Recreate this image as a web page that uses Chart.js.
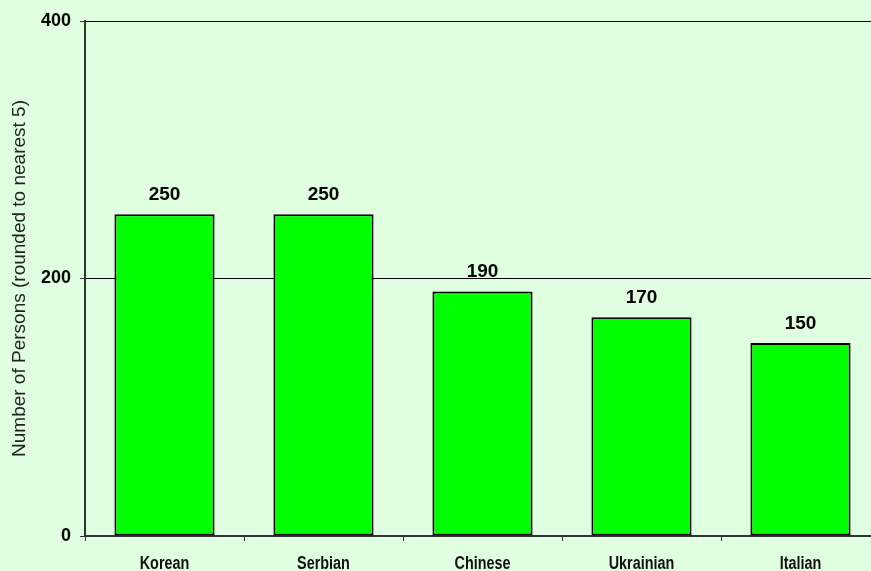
<!DOCTYPE html>
<html>
<head>
<meta charset="utf-8">
<script src="https://cdn.jsdelivr.net/npm/chart.js@4/dist/chart.umd.min.js"></script>
<style>
  html, body { margin: 0; padding: 0; overflow: hidden; background: #E0FFE0; }
  canvas { display: block; }
</style>
</head>
<body>
<canvas id="bar-chart" width="880" height="571"></canvas>
<script>
// data
const categories = ["Korean", "Serbian", "Chinese", "Ukrainian", "Italian"];
const persons = [250, 250, 190, 170, 150];
const yTicks = [0, 200, 400];

// value above each bar + narrow bold category names (like Arial Narrow)
const valueLabels = {
    id: 'valueLabels',
    afterDatasetsDraw(chart) {
        const ctx = chart.ctx;
        const meta = chart.getDatasetMeta(0);
        ctx.save();
        ctx.font = "bold 19px 'Liberation Sans', Arial, sans-serif";
        ctx.fillStyle = "#000";
        ctx.textAlign = "center";
        ctx.textBaseline = "alphabetic";
        meta.data.forEach((bar, i) => {
            ctx.fillText(persons[i], bar.x, bar.y - 14);
        });
        ctx.restore();
    },
    afterDraw(chart) {
        const ctx = chart.ctx;
        const xs = chart.scales.x;
        ctx.save();
        ctx.font = "bold 18px 'Liberation Sans', Arial, sans-serif";
        ctx.fillStyle = "#111";
        ctx.textAlign = "center";
        ctx.textBaseline = "alphabetic";
        categories.forEach((c, i) => {
            const x = xs.getPixelForValue(i);
            ctx.save();
            ctx.translate(x, 569);
            ctx.scale(0.8, 1);
            ctx.fillText(c, 0, 0);
            ctx.restore();
        });
        ctx.restore();
    }
};

const chart = new Chart(document.getElementById("bar-chart"), {
    type: 'bar',
    data: {
        labels: categories,
        datasets: [{
            label: "Number of Persons",
            data: persons,
            backgroundColor: "#00FF00",
            borderColor: "#000",
            borderWidth: 2,
            borderSkipped: false,
            categoryPercentage: 1,
            barPercentage: 0.63
        }]
    },
    options: {
        responsive: false,
        animation: false,
        layout: { padding: { top: 21, left: 0, right: 0, bottom: 0 } },
        plugins: {
            legend: { display: false },
            tooltip: { enabled: false }
        },
        scales: {
            x: {
                grid: {
                    display: true,
                    drawOnChartArea: false,
                    color: "#333",
                    tickLength: 5,
                    tickColor: "#333"
                },
                border: { color: "#333", width: 2 },
                ticks: { display: false },
                afterFit(scale) { scale.height = 35; }
            },
            y: {
                min: 0,
                max: 400,
                afterBuildTicks(scale) { scale.ticks = yTicks.map(v => ({ value: v })); },
                grid: {
                    color: "#000",
                    lineWidth: 1,
                    tickLength: 5,
                    tickColor: "#333"
                },
                border: { color: "#333", width: 2 },
                ticks: {
                    color: "#000",
                    padding: 9,
                    font: { family: "'Liberation Sans', Arial, sans-serif", size: 18, weight: 'bold' }
                },
                title: {
                    display: true,
                    text: "Number of Persons (rounded to nearest 5)",
                    color: "#222",
                    font: { family: "'Liberation Sans', Arial, sans-serif", size: 19 },
                    padding: { top: 8, bottom: 0 }
                },
                afterFit(scale) { scale.width = 85; }
            }
        }
    },
    plugins: [valueLabels]
});
</script>
</body>
</html>
